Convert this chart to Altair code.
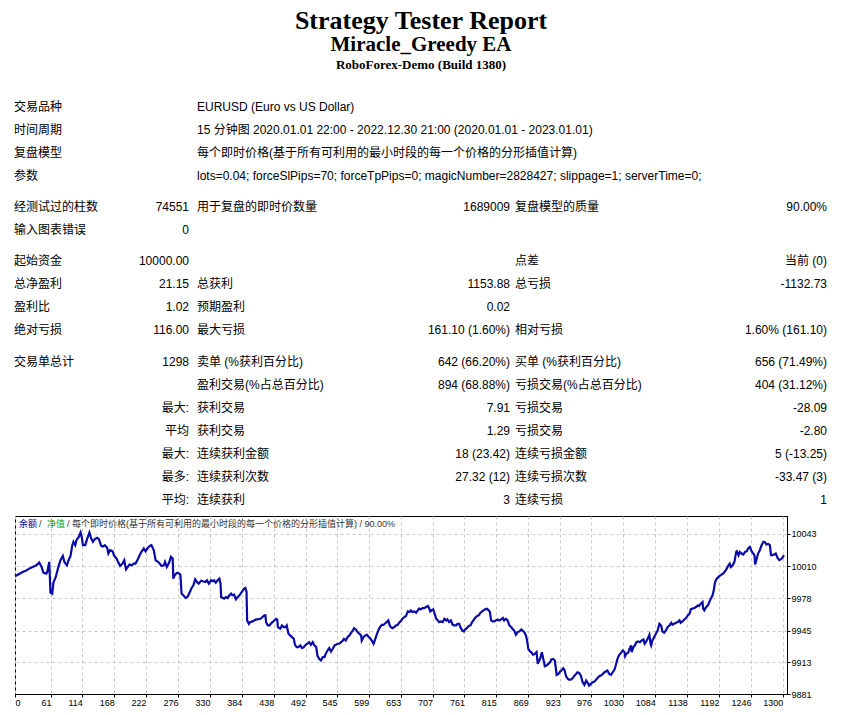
import altair as alt
import pandas as pd

# ---- report heading ----
title_main = "Strategy Tester Report"
title_ea = "Miracle_Greedy EA"
title_server = "RoboForex-Demo (Build 1380)"

# ---- block 1: label + long value ----
info_labels = ["交易品种", "时间周期", "复盘模型", "参数"]
info_values = [
    "EURUSD (Euro vs US Dollar)",
    "15 分钟图 2020.01.01 22:00 - 2022.12.30 21:00 (2020.01.01 - 2023.01.01)",
    "每个即时价格(基于所有可利用的最小时段的每一个价格的分形插值计算)",
    "lots=0.04; forceSlPips=70; forceTpPips=0; magicNumber=2828427; slippage=1; serverTime=0;",
]

# ---- block 2 ----
b2_l0 = ["经测试过的柱数", "输入图表错误"]
b2_v0 = ["74551", "0"]
b2_l1 = ["用于复盘的即时价数量", ""]
b2_v1 = ["1689009", ""]
b2_l2 = ["复盘模型的质量", ""]
b2_v2 = ["90.00%", ""]

# ---- block 3 ----
b3_l0 = ["起始资金", "总净盈利", "盈利比", "绝对亏损"]
b3_v0 = ["10000.00", "21.15", "1.02", "116.00"]
b3_l1 = ["", "总获利", "预期盈利", "最大亏损"]
b3_v1 = ["", "1153.88", "0.02", "161.10 (1.60%)"]
b3_l2 = ["点差", "总亏损", "", "相对亏损"]
b3_v2 = ["当前 (0)", "-1132.73", "", "1.60% (161.10)"]

# ---- block 4 ----
b4_l0 = ["交易单总计", "", "", "", "", "", ""]
b4_v0 = ["1298", "", "最大:", "平均", "最大:", "最多:", "平均:"]
b4_l1 = ["卖单 (%获利百分比)", "盈利交易(%占总百分比)", "获利交易", "获利交易",
         "连续获利金额", "连续获利次数", "连续获利"]
b4_v1 = ["642 (66.20%)", "894 (68.88%)", "7.91", "1.29", "18 (23.42)", "27.32 (12)", "3"]
b4_l2 = ["买单 (%获利百分比)", "亏损交易(%占总百分比)", "亏损交易", "亏损交易",
         "连续亏损金额", "连续亏损次数", "连续亏损"]
b4_v2 = ["656 (71.49%)", "404 (31.12%)", "-28.09", "-2.80", "5 (-13.25)", "-33.47 (3)", "1"]

# ---- chart legend line ----
legend_balance = "余额"
legend_equity = "净值"
legend_rest = "每个即时价格(基于所有可利用的最小时段的每一个价格的分形插值计算) / 90.00%"

# ---- balance curve (trade number, balance) ----
trade_no = [
    0, 7, 13, 19, 24, 30, 36, 41, 45, 48, 53, 55, 58, 60, 63, 65, 69, 73, 77, 81,
    84, 88, 90, 94, 97, 99, 102, 104, 108, 111, 113, 115, 119, 122, 126, 129, 132, 135, 139, 142,
    146, 149, 152, 156, 158, 161, 165, 168, 172, 175, 178, 182, 185, 188, 191, 194, 198, 201, 204, 208,
    211, 214, 218, 221, 225, 228, 231, 235, 238, 242, 245, 248, 252, 254, 257, 261, 264, 267, 268, 271,
    274, 278, 280, 282, 286, 289, 292, 296, 299, 302, 305, 308, 311, 315, 318, 322, 325, 328, 332,
    335, 337, 340, 343, 346, 348, 349, 352, 354, 357, 360, 363, 366, 368, 371, 374, 377, 380, 384, 388,
    390, 392, 393, 396, 398, 402, 405, 408, 411, 414, 416, 419, 422, 424, 425, 428, 431, 433, 436, 439,
    442, 444, 445, 449, 452, 455, 458, 460, 463, 466, 469, 472, 474, 477, 480, 483, 486, 489, 491, 495,
    498, 501, 504, 507, 510, 512, 515, 518, 521, 524, 526, 529, 532, 535, 538, 541, 543, 546, 549, 552,
    555, 557, 560, 563, 566, 569, 572, 574, 577, 580, 583, 586, 587, 590, 593, 596, 599, 601, 604, 607,
    609, 612, 615, 618, 621, 624, 626, 629, 632, 634, 636, 639, 642, 645, 648, 651, 653, 656, 659, 662,
    665, 668, 670, 673, 676, 679, 682, 684, 687, 690, 693, 696, 699, 701, 703, 705, 708, 710, 713, 716,
    718, 721, 724, 727, 730, 732, 735, 738, 741, 744, 747, 749, 752, 754, 757, 760, 762, 765, 768, 771,
    774, 776, 779, 782, 785, 788, 791, 793, 796, 799, 802, 804, 806, 809, 811, 814, 817, 820, 823, 826,
    828, 831, 834, 837, 840, 842, 845, 848, 851, 854, 857, 859, 862, 865, 867, 869, 872, 875, 877, 880,
    883, 885, 886, 889, 892, 895, 897, 900, 903, 906, 908, 911, 914, 917, 920, 923, 925, 928, 930, 933,
    936, 938, 941, 944, 947, 950, 952, 955, 958, 961, 964, 967, 969, 972, 975, 978, 981, 984, 986, 989,
    992, 995, 998, 1000, 1003, 1006, 1009, 1012, 1015, 1017, 1020, 1023, 1026, 1029, 1032, 1033, 1035, 1038, 1040, 1043,
    1044, 1047, 1050, 1052, 1055, 1058, 1061, 1064, 1066, 1068, 1071, 1074, 1076, 1077, 1079, 1082, 1085, 1088, 1091, 1094,
    1096, 1099, 1102, 1105, 1108, 1111, 1113, 1116, 1119, 1122, 1125, 1127, 1130, 1133, 1136, 1139, 1142, 1144, 1147, 1150,
    1153, 1156, 1158, 1161, 1164, 1165, 1167, 1170, 1173, 1175, 1178, 1181, 1183, 1185, 1188, 1191, 1193, 1196, 1199, 1202,
    1205, 1208, 1210, 1212, 1215, 1218, 1221, 1222, 1225, 1227, 1230, 1233, 1236, 1239, 1241, 1244, 1247, 1250, 1252, 1253,
    1255, 1258, 1261, 1264, 1267, 1270, 1272, 1275, 1278, 1280, 1283, 1285, 1288, 1291, 1294, 1297, 1299, 1302,
]
balance = [
    10000.0, 10002.4, 10004.4, 10005.8, 10007.8, 10009.5, 10011.2, 10013.9, 10009.5, 10003.8,
    10002.8, 10005.1, 10014.6, 9983.5, 9982.5, 9993.6, 9999.4, 10008.5, 10016.3, 10020.7,
    10013.9, 10011.2, 10015.3, 10020.7, 10031.5, 10034.9, 10031.5, 10036.6, 10039.9, 10044.3,
    10039.9, 10031.5, 10031.5, 10037.6, 10044.3, 10038.3, 10034.9, 10037.6, 10038.9, 10037.6,
    10030.8, 10030.1, 10031.5, 10028.8, 10023.0, 10026.4, 10025.4, 10020.7, 10018.0, 10013.9,
    10010.5, 10012.9, 10016.3, 10007.1, 10009.5, 10011.9, 10011.2, 10012.9, 10012.9, 10017.3,
    10021.3, 10024.7, 10028.1, 10025.4, 10028.8, 10030.8, 10031.5, 10026.4, 10016.3, 10014.6,
    10012.9, 10010.5, 10011.2, 10014.6, 10009.5, 10013.9, 10019.7, 10018.0, 9997.7, 10001.7,
    10003.4, 10002.8, 10001.7, 9982.5, 9980.1, 9978.1, 9979.1, 9984.2, 9988.2, 9990.9,
    9997.0, 9994.3, 9992.6, 9995.6, 9995.0, 9994.3, 9996.0, 9992.6, 9996.0,
    9995.0, 9996.0, 9993.6, 9996.0, 9997.7, 9992.6, 9979.1, 9978.1, 9977.4, 9979.1,
    9978.1, 9980.8, 9982.5, 9980.8, 9981.4, 9976.7, 9979.1, 9980.8, 9984.2, 9987.5,
    9988.2, 9984.2, 9955.4, 9952.0, 9953.7, 9954.4, 9955.4, 9956.4, 9956.4, 9957.1,
    9957.1, 9958.8, 9960.5, 9960.5, 9953.7, 9950.3, 9950.3, 9952.0, 9953.7, 9955.4,
    9957.1, 9956.4, 9948.7, 9947.0, 9950.3, 9948.7, 9948.7, 9950.3, 9941.9, 9940.2,
    9938.5, 9936.8, 9930.7, 9928.4, 9928.4, 9930.1, 9927.4, 9928.4, 9930.1, 9931.8,
    9933.4, 9930.7, 9933.4, 9930.1, 9928.4, 9919.9, 9916.5, 9914.8, 9918.2, 9918.2,
    9921.6, 9925.0, 9927.4, 9924.0, 9926.7, 9930.1, 9930.7, 9931.8, 9931.8, 9933.4,
    9935.1, 9936.8, 9935.1, 9938.5, 9940.2, 9942.9, 9945.3, 9947.6, 9946.3, 9943.6,
    9941.9, 9940.2, 9935.1, 9938.5, 9940.2, 9940.9, 9938.5, 9937.5, 9935.1, 9931.8,
    9935.1, 9940.2, 9945.3, 9948.7, 9951.0, 9951.0, 9952.0, 9953.7, 9955.4, 9951.0,
    9948.7, 9947.6, 9948.7, 9950.3, 9951.0, 9953.7, 9954.4, 9957.1, 9958.8, 9959.8,
    9964.5, 9963.9, 9965.6, 9963.9, 9964.5, 9963.2, 9965.6, 9967.3, 9966.6, 9967.9,
    9967.9, 9968.9, 9969.9, 9967.9, 9964.5, 9965.6, 9966.6, 9963.2, 9957.1, 9955.4,
    9953.7, 9954.4, 9953.7, 9957.1, 9955.4, 9956.4, 9953.7, 9955.4, 9951.0, 9950.3,
    9950.3, 9952.0, 9952.0, 9948.7, 9945.3, 9944.3, 9946.3, 9947.6, 9949.7, 9950.3,
    9953.7, 9955.4, 9957.8, 9959.8, 9960.5, 9963.2, 9964.5, 9965.6, 9966.6, 9967.3,
    9965.6, 9963.9, 9955.4, 9954.4, 9954.4, 9955.4, 9956.4, 9955.4, 9956.4, 9957.8,
    9955.4, 9957.1, 9955.4, 9950.3, 9948.7, 9947.0, 9945.3, 9940.9, 9943.6, 9944.3,
    9946.3, 9945.3, 9943.6, 9940.2, 9935.1, 9926.7, 9924.0, 9922.6, 9920.6, 9921.6,
    9923.3, 9911.5, 9913.2, 9916.5, 9923.3, 9914.8, 9909.1, 9909.8, 9911.5, 9913.2,
    9915.9, 9916.5, 9914.8, 9900.3, 9901.3, 9903.7, 9904.7, 9907.1, 9905.7, 9898.9,
    9896.2, 9895.6, 9895.6, 9896.9, 9899.6, 9901.3, 9903.0, 9902.3, 9899.6, 9892.9,
    9890.2, 9894.6, 9892.9, 9889.5, 9891.2, 9892.9, 9893.5, 9895.6, 9896.9, 9898.9,
    9899.6, 9901.3, 9903.0, 9903.7, 9904.7, 9901.3, 9900.3, 9903.0, 9905.7, 9909.8,
    9916.5, 9920.6, 9922.6, 9925.0, 9923.3, 9919.2, 9921.6, 9922.6, 9926.0, 9930.1,
    9923.3, 9928.4, 9930.7, 9933.4, 9934.1, 9933.4, 9935.1, 9936.1, 9931.8, 9933.4,
    9936.8, 9940.9, 9931.8, 9930.1, 9935.1, 9938.5, 9941.9, 9945.3, 9952.0, 9950.3,
    9944.3, 9942.9, 9945.3, 9948.7, 9950.3, 9953.0, 9951.0, 9952.0, 9953.0, 9953.7,
    9955.4, 9953.0, 9954.4, 9956.4, 9957.8, 9960.5, 9962.2, 9966.6, 9967.3, 9967.9,
    9968.9, 9970.6, 9969.9, 9972.3, 9974.0, 9967.3, 9965.6, 9968.9, 9970.6, 9973.3,
    9977.4, 9980.8, 9985.8, 9993.6, 9997.7, 9999.4, 10000.4, 10001.7, 10002.8, 10005.1,
    10007.8, 10011.2, 10012.9, 10009.5, 10011.2, 10014.6, 10024.7, 10025.4, 10021.3, 10024.7,
    10023.0, 10022.0, 10024.7, 10025.4, 10028.1, 10029.8, 10025.4, 10023.0, 10021.3, 10011.9,
    10016.3, 10023.0, 10026.4, 10031.5, 10034.9, 10034.2, 10032.2, 10032.8, 10031.5, 10021.3,
    10021.3, 10022.0, 10023.0, 10018.6, 10016.3, 10017.3, 10018.6, 10021.2,
]

x_ticks = [0, 61, 114, 168, 222, 276, 330, 384, 438, 492, 545, 599, 653,
           707, 761, 815, 869, 923, 976, 1030, 1084, 1138, 1192, 1246, 1300]
y_ticks = [9881, 9913, 9945, 9978, 10010, 10043]

SANS = "'Liberation Sans', 'Noto Sans CJK SC', sans-serif"
SERIF = "'Liberation Serif', 'Noto Serif CJK SC', serif"
GRID = "#c8c8c8"


def block_frame(columns, prefix):
    n = len(columns[0])
    df = pd.DataFrame({f"c{i}": col for i, col in enumerate(columns)})
    df["row"] = [f"{prefix}{i}" for i in range(n)]
    return df


def text_column(df, field, x, align, y_range):
    return alt.Chart(df).mark_text(
        align=align, baseline="middle", font=SANS, fontSize=12, color="black"
    ).encode(
        x=alt.value(x),
        y=alt.Y("row:O", axis=None,
                scale=alt.Scale(type="point", domain=list(df["row"]), range=y_range, padding=0)),
        text=f"{field}:N",
    )


def single_text(txt, x, y, align="left", **style):
    return alt.Chart(pd.DataFrame({"t": [txt]})).mark_text(
        align=align, baseline="middle", **style
    ).encode(x=alt.value(x), y=alt.value(y), text="t:N")


# column anchors (left labels / right-aligned values), relative to plot origin
col_x = [(-1, "left"), (174, "right"), (182, "left"), (495, "right"), (500, "left"), (812, "right")]

layers = []

# balance line
balance_df = pd.DataFrame({"trade": trade_no, "balance": balance})
line = alt.Chart(balance_df).mark_line(color="#0a0aa8", strokeWidth=2.2).encode(
    x=alt.X("trade:Q", title=None,
            scale=alt.Scale(domain=[0, 1307], nice=False, zero=False),
            axis=alt.Axis(values=x_ticks, format="d", grid=True, gridColor=GRID, gridDash=[3, 3],
                          domainColor="black", tickColor="black", tickSize=3,
                          labelFont=SANS, labelFontSize=9, labelColor="black", labelPadding=1,
                          labelFlush=False,
                          labelAlign={"condition": {"test": "datum.value === 0", "value": "left"},
                                      "value": "right"})),
    y=alt.Y("balance:Q", title=None,
            scale=alt.Scale(domain=[9881, 10061], nice=False, zero=False),
            axis=alt.Axis(orient="right", values=y_ticks, format="d", grid=True, gridColor=GRID,
                          gridDash=[3, 3], domainColor="black", tickColor="black", tickSize=3,
                          labelFont=SANS, labelFontSize=9, labelColor="black", labelPadding=1,
                          labelAlign="left", labelBaseline="middle", labelFlush=False)),
)
layers.append(line)

# block 1
df1 = block_frame([info_labels, info_values], "a")
layers.append(text_column(df1, "c0", -1, "left", [-409.5, -340.5]))
layers.append(text_column(df1, "c1", 182, "left", [-409.5, -340.5]))

# blocks 2-4
for cols, prefix, y_range in [
    ([b2_l0, b2_v0, b2_l1, b2_v1, b2_l2, b2_v2], "b", [-309.5, -286.5]),
    ([b3_l0, b3_v0, b3_l1, b3_v1, b3_l2, b3_v2], "c", [-255, -186]),
    ([b4_l0, b4_v0, b4_l1, b4_v1, b4_l2, b4_v2], "d", [-154.5, -16.5]),
]:
    df = block_frame(cols, prefix)
    for i, (x, align) in enumerate(col_x):
        layers.append(text_column(df, f"c{i}", x, align, y_range))

# heading
for txt, size, y in [(title_main, 26, -495), (title_ea, 21, -471), (title_server, 13, -451.5)]:
    layers.append(single_text(txt, 406, y, align="center", font=SERIF, fontWeight="bold",
                              fontSize=size, color="black"))

# chart legend line: 余额 / 净值 / model / quality
legend_style = dict(font=SANS, fontSize=9)
layers.append(single_text(legend_balance, 4, 8, color="#0000a0", **legend_style))
layers.append(single_text("/", 24, 8, color="#333333", **legend_style))
layers.append(single_text(legend_equity, 32, 8, color="#00a000", **legend_style))
layers.append(single_text("/ " + legend_rest, 52, 8, color="#333333", **legend_style))

chart = alt.layer(*layers).resolve_scale(y="independent").properties(
    width=772, height=178,
    padding={"left": 2, "top": 0, "right": 0, "bottom": 0},
    background="white",
).configure_view(stroke="black", strokeWidth=1)

chart.save("out.html", embed_options={"renderer": "svg", "actions": False})
